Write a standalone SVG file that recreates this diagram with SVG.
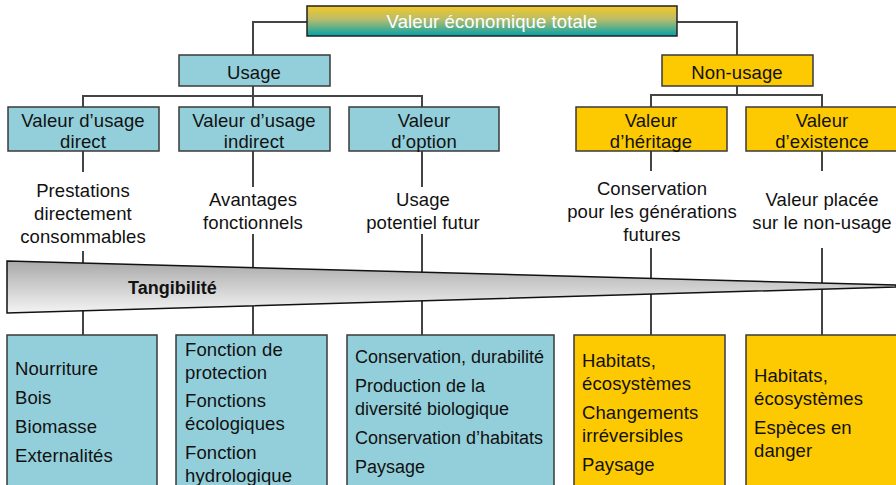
<svg xmlns="http://www.w3.org/2000/svg" width="896" height="485" viewBox="0 0 896 485">
<defs>
<linearGradient id="gTitle" x1="0" y1="0" x2="0" y2="1">
<stop offset="0" stop-color="#f3c925"/>
<stop offset="0.45" stop-color="#b8bc6c"/>
<stop offset="1" stop-color="#00a2a8"/>
</linearGradient>
<linearGradient id="gWedge" x1="0" y1="0" x2="0" y2="1">
<stop offset="0" stop-color="#a9a9a9"/>
<stop offset="1" stop-color="#f4f4f4"/>
</linearGradient>
<style>
text{font-family:"Liberation Sans",Arial,Helvetica,sans-serif;font-size:18.5px;letter-spacing:0.1px;fill:#111}
.c{text-anchor:middle}
.blue{fill:#93cfda;stroke:#3a3a3a;stroke-width:1.5}
.yel{fill:#fdc900;stroke:#3a3a3a;stroke-width:1.5}
.ln{fill:none;stroke:#444;stroke-width:2}
</style>
</defs>
<rect width="896" height="485" fill="#fff"/>
<g id="connectors" class="ln">
<path d="M307 22H253V55M677 22H737V55"/>
<path d="M253 86V96M83 107V96H422V107M253 96V107"/>
<path d="M737 86V95M651 107V95H822V107"/>
<path d="M83 151V172M83 251V335"/>
<path d="M253 151V187M253 234V335"/>
<path d="M422 151V187M422 234V335"/>
<path d="M651 151V171M651 248V335"/>
<path d="M822 151V171M822 248V335"/>
</g>
<g id="title">
<rect x="307" y="6" width="370" height="30" fill="url(#gTitle)" stroke="#222" stroke-width="1.5"/>
<text x="492" y="28" class="c" style="fill:#fff">Valeur économique totale</text>
</g>
<g id="usage">
<rect x="179" y="55" width="151" height="31" class="blue"/>
<text x="254" y="79" class="c">Usage</text>
</g>
<g id="non-usage">
<rect x="662" y="55" width="151" height="31" class="yel"/>
<text x="737" y="79" class="c">Non-usage</text>
</g>
<g id="direct">
<rect x="8" y="107" width="151" height="44" class="blue"/>
<text x="83" y="127" class="c">Valeur d’usage</text>
<text x="83" y="148" class="c">direct</text>
</g>
<g id="indirect">
<rect x="179" y="107" width="151" height="44" class="blue"/>
<text x="254" y="127" class="c">Valeur d’usage</text>
<text x="254" y="148" class="c">indirect</text>
</g>
<g id="option">
<rect x="349" y="107" width="150" height="44" class="blue"/>
<text x="424" y="127" class="c">Valeur</text>
<text x="424" y="148" class="c">d’option</text>
</g>
<g id="heritage">
<rect x="576" y="107" width="151" height="44" class="yel"/>
<text x="651" y="127" class="c">Valeur</text>
<text x="651" y="148" class="c">d’héritage</text>
</g>
<g id="existence">
<rect x="746" y="107" width="152" height="44" class="yel"/>
<text x="822" y="127" class="c">Valeur</text>
<text x="822" y="148" class="c">d’existence</text>
</g>
<g id="label-direct">
<text x="83" y="197" class="c">Prestations</text>
<text x="83" y="220" class="c">directement</text>
<text x="83" y="243" class="c">consommables</text>
</g>
<g id="label-indirect">
<text x="253" y="206" class="c">Avantages</text>
<text x="253" y="229" class="c">fonctionnels</text>
</g>
<g id="label-option">
<text x="423" y="206" class="c">Usage</text>
<text x="423" y="229" class="c">potentiel futur</text>
</g>
<g id="label-heritage">
<text x="652" y="195" class="c">Conservation</text>
<text x="652" y="218" class="c">pour les générations</text>
<text x="652" y="241" class="c">futures</text>
</g>
<g id="label-existence">
<text x="822" y="206" class="c">Valeur placée</text>
<text x="822" y="229" class="c">sur le non-usage</text>
</g>
<g id="tangibilite">
<polygon points="7,261 896,285 896,287 7,313" fill="url(#gWedge)" stroke="#111" stroke-width="1.5" stroke-linejoin="miter"/>
<text x="128" y="294" style="font-weight:bold;font-size:18px;letter-spacing:0">Tangibilité</text>
</g>
<g id="box-direct">
<rect x="7" y="335" width="150" height="155" class="blue"/>
<text x="15" y="375">Nourriture</text>
<text x="15" y="404">Bois</text>
<text x="15" y="433">Biomasse</text>
<text x="15" y="462">Externalités</text>
</g>
<g id="box-indirect">
<rect x="176" y="335" width="151" height="155" class="blue"/>
<text x="185" y="356">Fonction de</text>
<text x="185" y="379">protection</text>
<text x="185" y="407">Fonctions</text>
<text x="185" y="430">écologiques</text>
<text x="185" y="459">Fonction</text>
<text x="185" y="482">hydrologique</text>
</g>
<g id="box-option">
<rect x="347" y="335" width="207" height="155" class="blue"/>
<text x="355" y="363" style="font-size:18px;letter-spacing:0">Conservation, durabilité</text>
<text x="355" y="392" style="font-size:18px;letter-spacing:0">Production de la</text>
<text x="355" y="415" style="font-size:18px;letter-spacing:0">diversité biologique</text>
<text x="355" y="444" style="font-size:18px;letter-spacing:0">Conservation d’habitats</text>
<text x="355" y="473" style="font-size:18px;letter-spacing:0">Paysage</text>
</g>
<g id="box-heritage">
<rect x="574" y="335" width="151" height="155" class="yel"/>
<text x="582" y="367">Habitats,</text>
<text x="582" y="390">écosystèmes</text>
<text x="582" y="419">Changements</text>
<text x="582" y="442">irréversibles</text>
<text x="582" y="471">Paysage</text>
</g>
<g id="box-existence">
<rect x="746" y="335" width="155" height="155" class="yel"/>
<text x="754" y="382">Habitats,</text>
<text x="754" y="405">écosystèmes</text>
<text x="754" y="434">Espèces en</text>
<text x="754" y="457">danger</text>
</g>
</svg>
